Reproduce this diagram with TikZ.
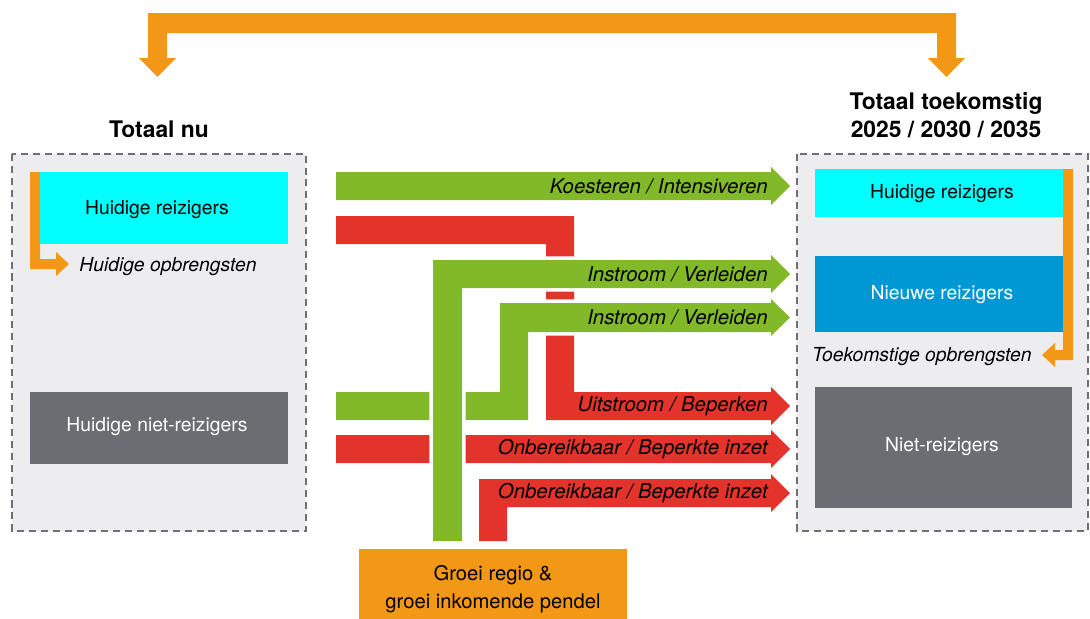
\documentclass[tikz,border=0pt]{standalone}
\usepackage{fontspec}
\setmainfont{TeX Gyre Heros}

\definecolor{groen}{RGB}{130,185,40}
\definecolor{rood}{RGB}{228,51,42}
\definecolor{oranje}{RGB}{243,152,22}
\definecolor{cyaan}{RGB}{0,255,255}
\definecolor{blauw}{RGB}{0,152,212}
\definecolor{donkergrijs}{RGB}{108,109,114}
\definecolor{vakgrijs}{RGB}{237,237,240}
\definecolor{randgrijs}{RGB}{110,110,115}

\begin{document}
\begin{tikzpicture}[x=0.02cm,y=-0.02cm,
   vak/.style={fill=vakgrijs,draw=randgrijs,line width=1.1pt,dash pattern=on 4pt off 2.8pt},
   tekst/.style={font=\fontsize{11}{13}\selectfont,inner sep=0pt},
   pijltekst/.style={font=\fontsize{11.6}{14}\selectfont\itshape,inner sep=0pt,anchor=east},
   kop/.style={font=\fontsize{13}{16}\selectfont\bfseries,align=center,inner sep=0pt},
   stroom/.style={preaction={draw=white,line width=4pt}}]
   \useasboundingbox (0,0) rectangle (1090,619);
   % totaal nu / totaal toekomstig
   \draw[vak] (12,154) rectangle (306,531);
   \draw[vak] (797,154) rectangle (1088,531);
   \node[kop] (nu) at (159,129) {Totaal nu};
   \node[kop] (toekomst) at (946,115) {Totaal toekomstig\\2025 / 2030 / 2035};
   \fill[oranje] (148,13) -- (956,13) -- (956,58) -- (965,58) -- (946.5,77) -- (928,58) -- (937,58)
      -- (937,33) -- (167,33) -- (167,58) -- (176,58) -- (157.5,77) -- (139,58) -- (148,58) -- cycle;
   % links
   \fill[cyaan] (40,172) rectangle (288,244);
   \node[tekst] (hrnu) at (157,210) {Huidige reizigers};
   \fill[oranje] (30,172) -- (40,172) -- (40,259) -- (56,259) -- (56,252) -- (69,264)
      -- (56,276) -- (56,269) -- (30,269) -- cycle;
   \node[tekst,font=\fontsize{11}{13}\selectfont\itshape,anchor=west] (opbrnu) at (79,267) {Huidige opbrengsten};
   \fill[donkergrijs] (30,392) rectangle (288,464);
   \node[tekst,white] (nrnu) at (157,427) {Huidige niet-reizigers};
   % rechts
   \fill[cyaan] (815,169) rectangle (1063,217);
   \node[tekst] (hrtoek) at (942,194) {Huidige reizigers};
   \fill[blauw] (815,256) rectangle (1063,332);
   \node[tekst,white] (nieuw) at (942,295) {Nieuwe reizigers};
   \fill[donkergrijs] (815,387) rectangle (1072,508);
   \node[tekst,white] (nrtoek) at (942,447) {Niet-reizigers};
   \fill[oranje] (1063,169) -- (1073,169) -- (1073,360) -- (1055,360) -- (1055,367) -- (1042,355)
      -- (1055,343) -- (1055,350) -- (1063,350) -- cycle;
   \node[tekst,font=\fontsize{11}{13}\selectfont\itshape,anchor=east] (opbrtoek) at (1032,357) {Toekomstige opbrengsten};
   % stromen
   \fill[rood,stroom] (336,216) -- (574,216) -- (574,392) -- (771,392) -- (771,387) -- (790,406)
      -- (771,425) -- (771,420) -- (546,420) -- (546,244) -- (336,244) -- cycle;
   \fill[groen,stroom] (336,172) -- (771,172) -- (771,167) -- (790,186) -- (771,205) -- (771,200)
      -- (336,200) -- cycle;
   \fill[groen,stroom] (336,392) -- (500,392) -- (500,303) -- (771,303) -- (771,299) -- (790,317.5)
      -- (771,336) -- (771,332) -- (528,332) -- (528,420) -- (336,420) -- cycle;
   \fill[rood,stroom] (336,435) -- (771,435) -- (771,430) -- (790,449) -- (771,468) -- (771,463)
      -- (336,463) -- cycle;
   \fill[groen,stroom] (433,541) -- (433,260) -- (771,260) -- (771,255) -- (790,274) -- (771,293)
      -- (771,288) -- (462,288) -- (462,541) -- cycle;
   \fill[rood,stroom] (479,541) -- (479,479) -- (771,479) -- (771,474) -- (790,493) -- (771,512)
      -- (771,507) -- (507,507) -- (507,541) -- cycle;
   \foreach \y/\t [count=\i] in {186/{Koesteren / Intensiveren},274/{Instroom / Verleiden},
      317.5/{Instroom / Verleiden},406/{Uitstroom / Beperken},449/{Onbereikbaar / Beperkte inzet},
      493/{Onbereikbaar / Beperkte inzet}}
      \node[pijltekst] (label\i) at (768,\y) {\t};
   \fill[oranje] (359,549) rectangle (627,619);
   \node[tekst,font=\fontsize{11.5}{16}\selectfont,align=center] (groei) at (493,589) {Groei regio \&\\groei inkomende pendel};
\end{tikzpicture}
\end{document}
